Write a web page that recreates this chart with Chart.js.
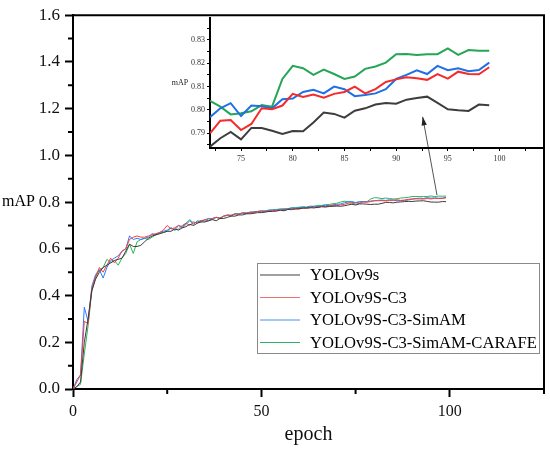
<!DOCTYPE html>
<html>
<head>
<meta charset="utf-8">
<script src="https://cdn.jsdelivr.net/npm/chart.js@4.4.1/dist/chart.umd.min.js"></script>
<style>
    html, body { margin: 0; padding: 0; background: #fff; }
    #wrap { position: relative; width: 550px; height: 449px; }
    #main { position: absolute; left: 0; top: 0; }
    #inset { position: absolute; left: 160px; top: 0; }
</style>
</head>
<body>
<div id="wrap">
    <canvas id="main" width="550" height="449" style="width:550px;height:449px"></canvas>
    <canvas id="inset" width="390" height="175" style="width:390px;height:175px"></canvas>
</div>
<script>
// epochs 0..99
const epochs = [];
for (let i = 0; i < 100; i++) epochs.push(i);

const seriesNames = ["YOLOv9s", "YOLOv9S-C3", "YOLOv9S-C3-SimAM", "YOLOv9S-C3-SimAM-CARAFE"];

const yolov9s = [
    0.00, 0.01, 0.03, 0.20, 0.30, 0.42, 0.47, 0.50, 0.52, 0.53,
    0.54, 0.55, 0.555, 0.56, 0.59, 0.62, 0.61, 0.61, 0.615, 0.63,
    0.645, 0.655, 0.66, 0.665, 0.67, 0.675, 0.675, 0.685, 0.68, 0.69,
    0.695, 0.705, 0.70, 0.71, 0.715, 0.715, 0.72, 0.725, 0.72, 0.73,
    0.73, 0.735, 0.74, 0.74, 0.745, 0.745, 0.75, 0.75, 0.752, 0.755,
    0.755, 0.757, 0.76, 0.76, 0.762, 0.765, 0.763, 0.768, 0.77, 0.77,
    0.772, 0.774, 0.775, 0.776, 0.775, 0.778, 0.78, 0.779, 0.781, 0.782,
    0.783, 0.782,
    0.7843, 0.7879, 0.7906, 0.7874, 0.7923, 0.7923, 0.7911, 0.7897, 0.791, 0.7909,
    0.7946, 0.7989, 0.7983, 0.7967, 0.7997, 0.8007, 0.8023, 0.803, 0.8027, 0.8044,
    0.8051, 0.8057, 0.803, 0.8003, 0.7999, 0.7996, 0.8023, 0.802
];

const yolov9sC3 = [
    0.00, 0.03, 0.06, 0.29, 0.28, 0.43, 0.48, 0.52, 0.50, 0.53,
    0.56, 0.54, 0.56, 0.59, 0.60, 0.64, 0.65, 0.655, 0.65, 0.65,
    0.655, 0.66, 0.665, 0.67, 0.68, 0.70, 0.685, 0.69, 0.70, 0.695,
    0.71, 0.70, 0.715, 0.71, 0.72, 0.725, 0.72, 0.73, 0.735, 0.73,
    0.74, 0.745, 0.74, 0.75, 0.748, 0.752, 0.75, 0.758, 0.755, 0.76,
    0.758, 0.762, 0.76, 0.765, 0.762, 0.768, 0.765, 0.77, 0.767, 0.772,
    0.77, 0.775, 0.773, 0.776, 0.779, 0.776, 0.782, 0.78, 0.784, 0.786,
    0.785, 0.788,
    0.79, 0.7954, 0.7957, 0.7914, 0.794, 0.8007, 0.8003, 0.8019, 0.8069, 0.8056,
    0.8066, 0.8053, 0.8069, 0.8077, 0.81, 0.8071, 0.8089, 0.812, 0.8131, 0.814,
    0.8136, 0.8129, 0.8154, 0.8134, 0.8164, 0.8154, 0.8153, 0.8183
];

const yolov9sC3SimAM = [
    0.00, 0.04, 0.06, 0.35, 0.29, 0.44, 0.49, 0.51, 0.475, 0.52,
    0.55, 0.56, 0.57, 0.59, 0.60, 0.655, 0.64, 0.645, 0.64, 0.645,
    0.65, 0.665, 0.66, 0.67, 0.675, 0.68, 0.69, 0.68, 0.70, 0.69,
    0.705, 0.72, 0.705, 0.72, 0.715, 0.725, 0.73, 0.725, 0.735, 0.73,
    0.74, 0.745, 0.742, 0.75, 0.748, 0.755, 0.752, 0.756, 0.758, 0.76,
    0.762, 0.76, 0.765, 0.767, 0.766, 0.77, 0.768, 0.772, 0.775, 0.773,
    0.776, 0.778, 0.777, 0.78, 0.782, 0.781, 0.784, 0.786, 0.785, 0.788,
    0.79, 0.792,
    0.7969, 0.8007, 0.8029, 0.7974, 0.8019, 0.8016, 0.8007, 0.8046, 0.8049, 0.8077,
    0.8086, 0.8071, 0.81, 0.8089, 0.8059, 0.8064, 0.8071, 0.8089, 0.8133, 0.815,
    0.817, 0.8154, 0.8189, 0.817, 0.8179, 0.8166, 0.8171, 0.8203
];

const yolov9sC3SimAMCarafe = [
    0.00, 0.01, 0.02, 0.15, 0.27, 0.42, 0.48, 0.51, 0.52, 0.555,
    0.54, 0.55, 0.53, 0.56, 0.58, 0.62, 0.58, 0.63, 0.64, 0.645,
    0.64, 0.65, 0.66, 0.665, 0.67, 0.675, 0.69, 0.68, 0.685, 0.70,
    0.71, 0.725, 0.71, 0.715, 0.722, 0.718, 0.728, 0.73, 0.734, 0.733,
    0.74, 0.743, 0.745, 0.749, 0.75, 0.753, 0.755, 0.754, 0.759, 0.76,
    0.763, 0.762, 0.766, 0.765, 0.769, 0.77, 0.772, 0.771, 0.775, 0.777,
    0.778, 0.78, 0.779, 0.783, 0.782, 0.786, 0.786, 0.789, 0.79, 0.793,
    0.795, 0.80,
    0.8039, 0.8014, 0.7981, 0.7986, 0.7994, 0.8021, 0.8014, 0.8133, 0.8189, 0.8179,
    0.815, 0.8173, 0.8154, 0.8133, 0.8143, 0.8176, 0.8186, 0.8203, 0.8239, 0.824,
    0.8236, 0.8239, 0.8239, 0.8264, 0.8236, 0.8257, 0.8254, 0.8254
];

const seriesValues = [yolov9s, yolov9sC3, yolov9sC3SimAM, yolov9sC3SimAMCarafe];

const mainColors = ["#3c3c3c", "#ff3b3b", "#2a7cff", "#2fb35a"];
const insetColors = ["#3d3d3d", "#f52a2a", "#1f6fe5", "#25a555"];
const legendColors = ["#404040", "#f07070", "#4d8ef0", "#2db060"];

// axis decoration
const yMinorTicks = [0.1, 0.3, 0.5, 0.7, 0.9, 1.1, 1.3, 1.5];
const xMinorTicks = [25, 75, 125];
const insetFrom = 72;

const serif = "'Liberation Serif', 'Times New Roman', serif";

function toPoints(values) {
    return epochs.map((e, i) => ({ x: e, y: values[i] }));
}

const mainDecor = {
    id: "mainDecor",
    afterDraw(chart) {
        const { ctx, chartArea: a, scales: { x, y } } = chart;
        ctx.save();

        // box top / right
        ctx.strokeStyle = "#000";
        ctx.lineWidth = 2;
        ctx.beginPath();
        ctx.moveTo(a.left - 1, a.top);
        ctx.lineTo(a.right, a.top);
        ctx.lineTo(a.right, a.bottom + 1);
        ctx.stroke();

        // minor ticks
        ctx.beginPath();
        yMinorTicks.forEach(v => {
            const py = y.getPixelForValue(v);
            ctx.moveTo(a.left - 5, py);
            ctx.lineTo(a.left, py);
        });
        xMinorTicks.forEach(v => {
            const px = x.getPixelForValue(v);
            ctx.moveTo(px, a.bottom);
            ctx.lineTo(px, a.bottom + 5);
        });
        ctx.stroke();

        // y title, horizontal
        ctx.fillStyle = "#000";
        ctx.font = `16px ${serif}`;
        ctx.textAlign = "left";
        ctx.textBaseline = "middle";
        ctx.fillText("mAP", 2, y.getPixelForValue(0.8));

        // legend
        const lx = 257, ly = 263, lw = 282, lh = 90;
        ctx.strokeStyle = "#8a8a8a";
        ctx.lineWidth = 1;
        ctx.strokeRect(lx + 0.5, ly + 0.5, lw, lh);
        ctx.font = `16.6px ${serif}`;
        chart.data.datasets.forEach((ds, i) => {
            const ry = 275 + i * 22.5;
            ctx.strokeStyle = legendColors[i];
            ctx.lineWidth = 1;
            ctx.beginPath();
            ctx.moveTo(260, ry);
            ctx.lineTo(300, ry);
            ctx.stroke();
            ctx.fillStyle = "#000";
            ctx.fillText(ds.label, 310, ry + 1);
        });

        // arrow pointing into the zoomed view
        const x0 = x.getPixelForValue(96.6), y0 = y.getPixelForValue(0.83);
        const x1 = x.getPixelForValue(92.8), y1 = y.getPixelForValue(1.165);
        const ang = Math.atan2(y1 - y0, x1 - x0);
        ctx.strokeStyle = "#555";
        ctx.fillStyle = "#222";
        ctx.lineWidth = 1;
        ctx.beginPath();
        ctx.moveTo(x0, y0);
        ctx.lineTo(x1, y1);
        ctx.stroke();
        ctx.beginPath();
        ctx.moveTo(x1, y1);
        ctx.lineTo(x1 - 9 * Math.cos(ang - 0.3), y1 - 9 * Math.sin(ang - 0.3));
        ctx.lineTo(x1 - 9 * Math.cos(ang + 0.3), y1 - 9 * Math.sin(ang + 0.3));
        ctx.closePath();
        ctx.fill();

        ctx.restore();
    }
};

const insetDecor = {
    id: "insetDecor",
    afterDraw(chart) {
        const { ctx, scales: { y } } = chart;
        ctx.save();
        ctx.fillStyle = "#222";
        ctx.font = `8px ${serif}`;
        ctx.textAlign = "center";
        ctx.textBaseline = "middle";
        ctx.fillText("mAP", 20, y.getPixelForValue((y.min + y.max) / 2));
        ctx.restore();
    }
};

new Chart(document.getElementById("main").getContext("2d"), {
    type: "line",
    data: {
        datasets: seriesNames.map((name, k) => ({
            label: name,
            data: toPoints(seriesValues[k]),
            borderColor: mainColors[k],
            borderWidth: 1,
            pointRadius: 0,
            tension: 0
        }))
    },
    options: {
        responsive: false,
        animation: false,
        layout: { padding: { top: 10, right: 6, left: 0, bottom: 0 } },
        plugins: { legend: { display: false }, tooltip: { enabled: false } },
        scales: {
            x: {
                type: "linear",
                min: 0,
                max: 125,
                ticks: {
                    stepSize: 50,
                    includeBounds: false,
                    autoSkip: false,
                    maxRotation: 0,
                    color: "#111",
                    padding: 5,
                    font: { family: serif, size: 16 },
                    callback: v => String(v)
                },
                grid: { drawOnChartArea: false, tickLength: 8, tickColor: "#000", tickWidth: 2 },
                border: { color: "#000", width: 2 },
                title: {
                    display: true,
                    text: "epoch",
                    color: "#111",
                    font: { family: serif, size: 20 },
                    padding: { top: 0, bottom: 2 }
                },
                afterFit: s => { s.height = 60; }
            },
            y: {
                min: 0,
                max: 1.6,
                ticks: {
                    stepSize: 0.2,
                    color: "#111",
                    padding: 5,
                    font: { family: serif, size: 17 },
                    callback: v => v.toFixed(1)
                },
                grid: { drawOnChartArea: false, tickLength: 8, tickColor: "#000", tickWidth: 2 },
                border: { color: "#000", width: 2 },
                afterFit: s => { s.width = 73; }
            }
        }
    },
    plugins: [mainDecor]
});

new Chart(document.getElementById("inset").getContext("2d"), {
    type: "line",
    data: {
        datasets: seriesNames.map((name, k) => ({
            label: name,
            data: toPoints(seriesValues[k]).filter(p => p.x >= insetFrom),
            borderColor: insetColors[k],
            borderWidth: 2,
            pointRadius: 0,
            tension: 0
        }))
    },
    options: {
        responsive: false,
        animation: false,
        layout: { padding: { top: 18, right: 7, left: 0, bottom: 0 } },
        plugins: { legend: { display: false }, tooltip: { enabled: false } },
        scales: {
            x: {
                type: "linear",
                min: 72,
                max: 104.2,
                ticks: {
                    stepSize: 2.5,
                    includeBounds: false,
                    autoSkip: false,
                    maxRotation: 0,
                    color: "#333",
                    padding: 3,
                    font: { family: serif, size: 8 },
                    callback: v => (v % 5 === 0 ? String(v) : "")
                },
                grid: { drawOnChartArea: false, tickLength: 3, tickColor: "#000", tickWidth: 1 },
                border: { color: "#000", width: 2 },
                afterFit: s => { s.height = 27; }
            },
            y: {
                min: 0.7837,
                max: 0.8394,
                ticks: {
                    stepSize: 0.005,
                    includeBounds: false,
                    autoSkip: false,
                    color: "#333",
                    padding: 2,
                    font: { family: serif, size: 8 },
                    callback: v => (Math.round(v * 1000) % 10 === 0 ? v.toFixed(2) : "")
                },
                grid: { drawOnChartArea: false, tickLength: 3, tickColor: "#000", tickWidth: 1 },
                border: { color: "#000", width: 2 },
                afterFit: s => { s.width = 50; }
            }
        }
    },
    plugins: [insetDecor]
});
</script>
</body>
</html>
